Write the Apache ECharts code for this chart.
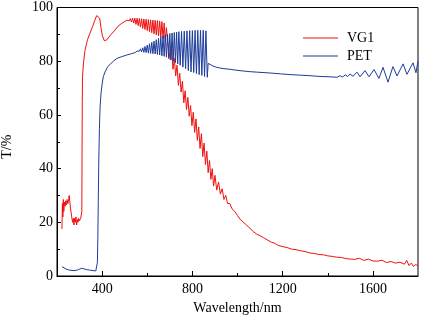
<!DOCTYPE html>
<html>
<head>
<meta charset="utf-8">
<script src="https://cdn.jsdelivr.net/npm/echarts@6/dist/echarts.min.js"></script>
<style>
html,body{margin:0;padding:0;background:#fff;}
#chart{width:423px;height:318px;}
</style>
</head>
<body>
<div id="chart"></div>
<script>
const seriesNames = ['VG1', 'PET'];
const xTicks = [400, 800, 1200, 1600];
const xMinorTicks = [600, 1000, 1400];
const yTicks = [0, 20, 40, 60, 80, 100];

// VG1 transmittance [wavelength nm, T %]
const vg1 = [
 [222,17.5],[224,27],[226,22],[228,28.5],[230,24],[233,27.5],[236,26],[239,28],[242,26.5],[245,28.5],
 [248,27],[251,28],[254,30],[257,27.5],[260,25],[263,23.5],[266,21.5],[269,20],[272,21.5],[275,19],
 [278,21.5],[281,20],[284,22],[287,19],[290,21],[293,20],[296,21.5],[299,20.5],[302,21],[305,21.5],
 [308,22],[310,24],[311,45],[312,65],[313,74],[317,79],[324,84],[335,88],[346,90.4],[358,93],
 [368,95.3],[376,97],[383,97.6],[389,96],[395,92.5],[401,89.5],[410,87.6],[420,87.9],[427,88.5],[440,90],
 [457,91.6],[470,93],[487,94.1],[500,94.8],[510,95.3],
 [515,95.6],[520,95.0],[525,95.9],[530,94.6],[535,96.0],[540,94.2],[545,96.0],[550,93.7],[555,96.0],[560,93.2],
 [565,95.9],[570,92.7],[575,95.8],[580,92.2],[585,95.7],[590,91.8],[595,95.6],[600,91.4],[605,95.5],[610,91.0],
 [615,95.4],[620,90.6],[625,95.3],[630,90.2],[635,95.2],[640,89.8],[645,95.1],[650,89.4],[655,95.0],[660,89.0],
 [665,94.7],[670,88.5],[675,94.2],[680,87.5],[685,92.5],[690,87.5],[696,88.0],[702,80.5],[708,84.5],[714,77.0],
 [720,81.0],[726,74.5],[732,78.5],[738,71.0],[744,75.5],[750,68.5],[756,72.5],[762,64.5],[768,69.0],[774,62.0],
 [780,66.5],[786,59.5],[792,63.5],[798,56.0],[804,61.0],[810,53.5],[816,58.5],[822,50.5],[828,55.5],[834,47.5],
 [840,53.0],[846,44.5],[852,49.5],[858,41.5],[864,46.5],[870,38.5],[876,43.0],[882,36.0],[888,40.0],[894,33.5],
 [900,37.5],[908,32.0],[916,35.0],[924,30.5],[932,32.5],[940,28.5],[948,30.0],[956,27.0],[966,27.0],[976,25.0],
 [988,24.0],[1000,22.5],[1011,21.2],[1020,20.5],[1035,19.3],[1050,18.2],[1069,16.6],[1085,15.6],[1100,15.0],[1115,14.3],
 [1131,13.5],[1150,12.6],[1165,12.2],[1180,11.4],[1202,10.9],[1220,10.6],[1240,10.0],[1260,9.8],[1280,9.4],[1300,9.1],
 [1320,8.6],[1340,8.4],[1360,8.0],[1380,7.9],[1400,7.5],[1420,7.3],[1440,7.0],[1460,6.9],[1480,6.5],[1500,6.3],
 [1520,6.2],[1540,6.6],[1560,5.8],[1580,6.3],[1600,5.6],[1620,5.5],[1640,5.9],[1660,5.0],[1680,5.4],[1700,4.8],
 [1720,5.1],[1740,4.4],[1750,5.8],[1760,3.9],[1770,4.8],[1780,3.6],[1790,4.3],[1800,3.7]
];

// PET transmittance [wavelength nm, T %]
const pet = [
 [222,3.5],[230,3.0],[240,2.6],[250,2.3],[262,2.1],[275,2.0],[290,2.2],[300,2.6],[310,2.9],[318,2.6],
 [330,2.4],[345,2.2],[360,2.0],[372,1.9],[377,2.3],[379,5],[381,14],[383,28],[385,42],[388,55],
 [391,63],[395,68],[400,71.5],[405,74.2],[413,76],[425,78],[435,78.8],[450,80],[465,81],[487,81.7],
 [509,82.3],[530,82.8],[546,83.2],[555,83.8],
 [560,84.3],[565,83.7],[570,84.6],[575,83.5],[580,85.0],[585,83.3],[590,85.5],[595,83.2],[600,86.0],[605,83.0],
 [610,86.5],[615,82.9],[620,87.0],[625,82.8],[630,87.5],[635,82.7],[640,88.0],[645,82.5],[650,88.5],[655,82.3],
 [660,89.0],[665,82.0],[670,89.4],[675,81.8],[680,89.8],[685,81.5],[690,90.0],[695,81.0],[700,90.3],[705,80.5],
 [710,90.5],[715,80.0],[720,90.7],[725,79.5],[730,90.8],[735,79.0],[740,91.0],[746,78.5],[752,91.1],[758,77.8],
 [764,91.2],[770,77.2],[776,91.3],[782,76.5],[788,91.4],[794,76.0],[800,91.4],[806,75.8],[812,91.5],[818,75.4],
 [824,91.5],[830,75.0],[836,91.5],[842,74.7],[848,91.5],[854,74.3],[860,91.3],[866,74.0],[870,79.2],[878,78.6],
 [891,78.2],[905,77.8],[920,77.5],[940,77.2],[967,77.0],[990,76.7],[1020,76.4],[1055,76.1],[1090,75.9],[1144,75.6],
 [1190,75.3],[1233,75.0],[1280,74.8],[1321,74.6],[1370,74.3],[1410,74.2],[1440,74.0],[1455,74.6],[1465,74.1],[1478,74.9],
 [1488,74.3],[1499,75.2],[1512,74.4],[1530,75.9],[1543,74.2],[1565,76.5],[1583,74.2],[1605,76.9],[1627,73.6],[1645,77.7],
 [1667,72.2],[1689,78.0],[1707,74.5],[1734,79.0],[1751,75.1],[1778,79.4],[1791,75.7],[1800,80.0]
];

const font = '"Liberation Serif", "Times New Roman", serif';
const lineIcon = 'path://M0,0 L0,0 Z M0,6.5 L35,6.5 L35,7.6 L0,7.6 Z M35,14 L35,14 Z';
const chart = echarts.init(document.getElementById('chart'), null, {renderer: 'canvas'});
chart.setOption({
  animation: false,
  backgroundColor: '#fff',
  grid: {left: 57, right: 5, top: 7.5, bottom: 42, outerBoundsMode: 'none', containLabel: false,
    show: true, borderColor: '#000', borderWidth: 1, backgroundColor: 'transparent'},
  legend: {
    orient: 'vertical', left: 298, top: 26, itemWidth: 35, itemHeight: 14, itemGap: 4,
    icon: lineIcon,
    textStyle: {fontFamily: font, fontSize: 14, color: '#000', padding: [0, 0, 0, 4]},
    data: seriesNames
  },
  xAxis: [{
    type: 'value', min: 200, max: 1800, position: 'bottom',
    axisLine: {show: true, lineStyle: {color: '#000', width: 1}},
    axisTick: {show: true, inside: true, length: 5, customValues: xTicks, lineStyle: {color: '#000'}},
    axisLabel: {customValues: xTicks, fontFamily: font, fontSize: 14, color: '#000', margin: 6,
      formatter: v => String(v)},
    splitLine: {show: false},
    name: 'Wavelength/nm', nameLocation: 'middle', nameGap: 22,
    nameTextStyle: {fontFamily: font, fontSize: 14, color: '#000'}
  }, {
    type: 'value', min: 200, max: 1800, position: 'bottom',
    axisLine: {show: false},
    axisTick: {show: true, inside: true, length: 3, customValues: xMinorTicks, lineStyle: {color: '#000'}},
    axisLabel: {show: false},
    splitLine: {show: false}
  }],
  yAxis: {
    type: 'value', min: 0, max: 100, interval: 20,
    axisLine: {show: true, lineStyle: {color: '#000', width: 1}},
    axisTick: {show: true, inside: true, length: 4, lineStyle: {color: '#000'}},
    minorTick: {show: true, splitNumber: 2, length: 3, lineStyle: {color: '#000'}},
    axisLabel: {fontFamily: font, fontSize: 14, color: '#000', margin: 4,
      formatter: v => yTicks.indexOf(v) >= 0 ? String(v) : ''},
    splitLine: {show: false},
    name: 'T/%', nameLocation: 'middle', nameGap: 43, nameRotate: 90,
    nameTextStyle: {fontFamily: font, fontSize: 14, color: '#000', padding: [0, 10, 0, 0]}
  },
  series: [{
    name: seriesNames[0], type: 'line', data: vg1, symbol: 'none', xAxisIndex: 0,
    lineStyle: {color: '#f01010', width: 1}, itemStyle: {color: '#f01010'}
  }, {
    name: seriesNames[1], type: 'line', data: pet, symbol: 'none', xAxisIndex: 0,
    lineStyle: {color: '#1c3c9c', width: 1}, itemStyle: {color: '#1c3c9c'}
  }]
});
</script>
</body>
</html>
